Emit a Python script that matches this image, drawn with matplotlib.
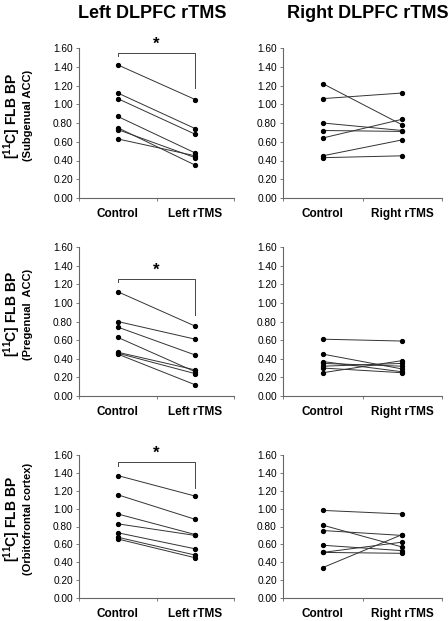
import numpy as np
import matplotlib
matplotlib.use("Agg")
import matplotlib.pyplot as plt

plt.rcParams['font.family'] = ['Liberation Sans', 'DejaVu Sans']
plt.rcParams['mathtext.fontset'] = 'custom'
plt.rcParams['mathtext.rm'] = 'Liberation Sans:bold'
plt.rcParams['mathtext.default'] = 'rm'

######################## data (control -> rTMS, one line per subject)
col_titles = ['Left DLPFC rTMS', 'Right DLPFC rTMS']
cat_left = ['Control', 'Left rTMS']
cat_right = ['Control', 'Right rTMS']
regions = ['(Subgenual ACC)', '(Pregenual  ACC)', '(Orbitofrontal cortex)']
yticks = [0.0, 0.2, 0.4, 0.6, 0.8, 1.0, 1.2, 1.4, 1.6]

# subgenual ACC
sub_left_ctrl = [1.42, 1.12, 1.06, 0.87, 0.75, 0.73, 0.63]
sub_left_tms = [1.05, 0.74, 0.68, 0.48, 0.35, 0.43, 0.45]
sub_right_ctrl = [1.22, 1.06, 0.80, 0.72, 0.64, 0.45, 0.43]
sub_right_tms = [0.78, 1.12, 0.72, 0.71, 0.84, 0.62, 0.45]
# pregenual ACC
pre_left_ctrl = [1.12, 0.80, 0.74, 0.63, 0.47, 0.46, 0.45]
pre_left_tms = [0.75, 0.61, 0.44, 0.26, 0.28, 0.24, 0.12]
pre_right_ctrl = [0.61, 0.45, 0.37, 0.35, 0.32, 0.30, 0.25]
pre_right_tms = [0.59, 0.29, 0.26, 0.32, 0.35, 0.25, 0.38]
# orbitofrontal cortex
ofc_left_ctrl = [1.37, 1.155, 0.94, 0.83, 0.73, 0.68, 0.66]
ofc_left_tms = [1.14, 0.88, 0.71, 0.70, 0.55, 0.48, 0.45]
ofc_right_ctrl = [0.98, 0.815, 0.755, 0.59, 0.51, 0.51, 0.34]
ofc_right_tms = [0.94, 0.57, 0.70, 0.53, 0.625, 0.50, 0.71]

# significance bracket: (bar height, drop to)
brackets = [(1.55, 1.17), (1.26, 0.87), (1.52, 1.23)]

######################## layout (pixel positions of the axes)
W, H = 448, 621
fig = plt.figure(figsize=(W / 100, H / 100), dpi=100)
col_x = [(79, 155), (283, 159)]
title_x = [152, 368]
row_y = [(48, 198), (247, 396), (455, 598)]

data = [
    [(sub_left_ctrl, sub_left_tms), (sub_right_ctrl, sub_right_tms)],
    [(pre_left_ctrl, pre_left_tms), (pre_right_ctrl, pre_right_tms)],
    [(ofc_left_ctrl, ofc_left_tms), (ofc_right_ctrl, ofc_right_tms)],
]

for r in range(3):
    top, bot = row_y[r]
    for c in range(2):
        x0, w = col_x[c]
        ax = fig.add_axes([x0 / W, 1 - bot / H, w / W, (bot - top) / H])
        ctrl, tms = data[r][c]
        for a, b in zip(ctrl, tms):
            ax.plot([1, 2], [a, b], color='#333333', lw=0.7, marker='o',
                    ms=2.8, mfc='black', mec='black', zorder=3)
        ax.set_xlim(0.5, 2.5)
        ax.set_ylim(0, 1.6)
        ax.set_yticks(yticks)
        ax.set_yticklabels(['%.2f' % v for v in yticks], fontsize=7.3)
        ax.set_xticks([1, 2])
        ax.set_xticklabels(cat_left if c == 0 else cat_right,
                           fontsize=8.5, fontweight='bold')
        for lab in ax.get_xticklabels():
            lab.set_va('baseline')
        ax.set_xticks([0.5, 1.5, 2.5], minor=True)
        ax.tick_params(axis='x', which='major', length=0, pad=13.5)
        ax.tick_params(axis='x', which='minor', length=2.5, width=0.6, color='#666666')
        ax.tick_params(axis='y', length=2.5, width=0.6, color='#666666', pad=2)
        for s in ['top', 'right']:
            ax.spines[s].set_visible(False)
        for s in ['left', 'bottom']:
            ax.spines[s].set_color('#666666')
            ax.spines[s].set_linewidth(0.8)

        if c == 0:
            hy, dy = brackets[r]
            ax.plot([1, 1, 2, 2], [hy - 0.04, hy, hy, dy], color='#444444',
                    lw=0.7, clip_on=False)
            ax.text(1.5, hy + 0.01, '*', ha='center', va='bottom',
                    fontsize=12, fontweight='bold')
            yc = 1 - (top + (bot - top) * 0.45) / H
            fig.text(12 / W, yc, r'[$^{11}$C] FLB BP', rotation=90,
                     ha='center', va='center', fontsize=10, fontweight='bold')
            fig.text(28 / W, yc, regions[r], rotation=90,
                     ha='center', va='center', fontsize=8, fontweight='bold')

        if r == 0:
            fig.text(title_x[c] / W, 1 - 14 / H, col_titles[c],
                     ha='center', va='center', fontsize=13, fontweight='bold')

fig.savefig('out.png', dpi=100)
